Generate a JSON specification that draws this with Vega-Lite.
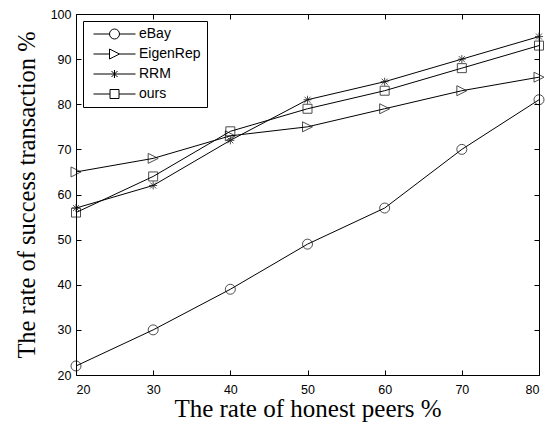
{
  "$schema": "https://vega.github.io/schema/vega-lite/v6.json",
  "width": 463,
  "height": 361,
  "autosize": {"type": "none"},
  "padding": {"left": 76, "top": 14, "right": 8, "bottom": 50},
  "background": "white",
  "config": {
    "view": {"stroke": "black", "strokeWidth": 1},
    "axis": {
      "domain": false,
      "grid": false,
      "tickColor": "black",
      "tickSize": -5,
      "tickWidth": 1,
      "labelColor": "black",
      "labelFont": "Liberation Sans",
      "labelFontSize": 12.5,
      "titleColor": "black",
      "titleFont": "Liberation Serif",
      "titleFontWeight": "normal"
    },
    "legend": {
      "strokeColor": "black",
      "fillColor": "white",
      "padding": 6,
      "labelFont": "Liberation Sans",
      "labelFontSize": 14,
      "labelColor": "black"
    }
  },
  "data": {
    "values": [
      {"peers": 20, "rate": 22, "series": "eBay"},
      {"peers": 30, "rate": 30, "series": "eBay"},
      {"peers": 40, "rate": 39, "series": "eBay"},
      {"peers": 50, "rate": 49, "series": "eBay"},
      {"peers": 60, "rate": 57, "series": "eBay"},
      {"peers": 70, "rate": 70, "series": "eBay"},
      {"peers": 80, "rate": 81, "series": "eBay"},
      {"peers": 20, "rate": 65, "series": "EigenRep"},
      {"peers": 30, "rate": 68, "series": "EigenRep"},
      {"peers": 40, "rate": 73, "series": "EigenRep"},
      {"peers": 50, "rate": 75, "series": "EigenRep"},
      {"peers": 60, "rate": 79, "series": "EigenRep"},
      {"peers": 70, "rate": 83, "series": "EigenRep"},
      {"peers": 80, "rate": 86, "series": "EigenRep"},
      {"peers": 20, "rate": 57, "series": "RRM"},
      {"peers": 30, "rate": 62, "series": "RRM"},
      {"peers": 40, "rate": 72, "series": "RRM"},
      {"peers": 50, "rate": 81, "series": "RRM"},
      {"peers": 60, "rate": 85, "series": "RRM"},
      {"peers": 70, "rate": 90, "series": "RRM"},
      {"peers": 80, "rate": 95, "series": "RRM"},
      {"peers": 20, "rate": 56, "series": "ours"},
      {"peers": 30, "rate": 64, "series": "ours"},
      {"peers": 40, "rate": 74, "series": "ours"},
      {"peers": 50, "rate": 79, "series": "ours"},
      {"peers": 60, "rate": 83, "series": "ours"},
      {"peers": 70, "rate": 88, "series": "ours"},
      {"peers": 80, "rate": 93, "series": "ours"}
    ]
  },
  "layer": [
    {
      "mark": {"type": "line", "color": "black", "strokeWidth": 1},
      "encoding": {
        "x": {"field": "peers", "type": "quantitative", "scale": {"domain": [20, 80], "nice": false, "zero": false},
              "axis": {"orient": "bottom", "values": [20, 30, 40, 50, 60, 70, 80], "title": "The rate of honest peers %", "labelPadding": 13, "titlePadding": 1, "titleFontSize": 25}},
        "y": {"field": "rate", "type": "quantitative", "scale": {"domain": [20, 100], "nice": false, "zero": false},
              "axis": {"orient": "left", "values": [20, 30, 40, 50, 60, 70, 80, 90, 100], "title": "The rate of success transaction %", "labelPadding": 10, "titlePadding": 10.5, "titleFontSize": 24.5}},
        "detail": {"field": "series"}
      }
    },
    {
      "mark": {"type": "point", "color": "black", "filled": false, "size": 100, "strokeWidth": 1},
      "encoding": {
        "x": {"field": "peers", "type": "quantitative", "axis": null},
        "y": {"field": "rate", "type": "quantitative", "axis": null},
        "shape": {
          "field": "series", "type": "nominal",
          "scale": {
            "domain": ["eBay", "EigenRep", "RRM", "ours"],
            "range": [
              "circle",
              "M-1,-1L1,0L-1,1Z",
              "M-0.8,0L0.8,0M0,-0.8L0,0.8M-0.6,-0.6L0.6,0.6M-0.6,0.6L0.6,-0.6",
              "M-0.9,-0.9L0.9,-0.9L0.9,0.9L-0.9,0.9Z"
            ]
          },
          "legend": null
        }
      }
    },
    {
      "mark": {"type": "point", "color": "black", "filled": false, "size": 100, "strokeWidth": 1, "opacity": 0},
      "encoding": {
        "x": {"field": "peers", "type": "quantitative", "axis": null},
        "y": {"field": "rate", "type": "quantitative", "axis": null},
        "shape": {
          "field": "series", "type": "nominal",
          "scale": {
            "domain": ["eBay", "EigenRep", "RRM", "ours"],
            "range": [
              "M-4.2,0L-1,0M1,0L4.2,0M1,0A1,1 0 1,1 -1,0A1,1 0 1,1 1,0",
              "M-4.2,0L-1,0M1,0L4.2,0M-1,-1L1,0L-1,1Z",
              "M-4.2,0L4.2,0M0,-0.8L0,0.8M-0.6,-0.6L0.6,0.6M-0.6,0.6L0.6,-0.6",
              "M-4.2,0L-0.9,0M0.9,0L4.2,0M-0.9,-0.9L0.9,-0.9L0.9,0.9L-0.9,0.9Z"
            ]
          },
          "legend": {
            "title": null,
            "orient": "top-left",
            "offset": 7,
            "symbolOpacity": 1,
            "symbolStrokeColor": "black",
            "symbolFillColor": "transparent",
            "symbolStrokeWidth": 1,
            "symbolSize": 100,
            "symbolOffset": 18.5,
            "labelOffset": 17.5,
            "rowPadding": 6,
            "labelExpr": "datum.label + '\u00a0\u00a0'"
          }
        }
      }
    },
    {
      "mark": {"type": "point", "opacity": 0},
      "encoding": {
        "x": {"field": "peers", "type": "quantitative",
              "axis": {"orient": "top", "values": [20, 30, 40, 50, 60, 70, 80], "labels": false, "title": null}},
        "y": {"field": "rate", "type": "quantitative",
              "axis": {"orient": "right", "values": [20, 30, 40, 50, 60, 70, 80, 90, 100], "labels": false, "title": null}}
      }
    }
  ],
  "resolve": {"scale": {"shape": "independent"}, "axis": {"x": "independent", "y": "independent"}}
}
